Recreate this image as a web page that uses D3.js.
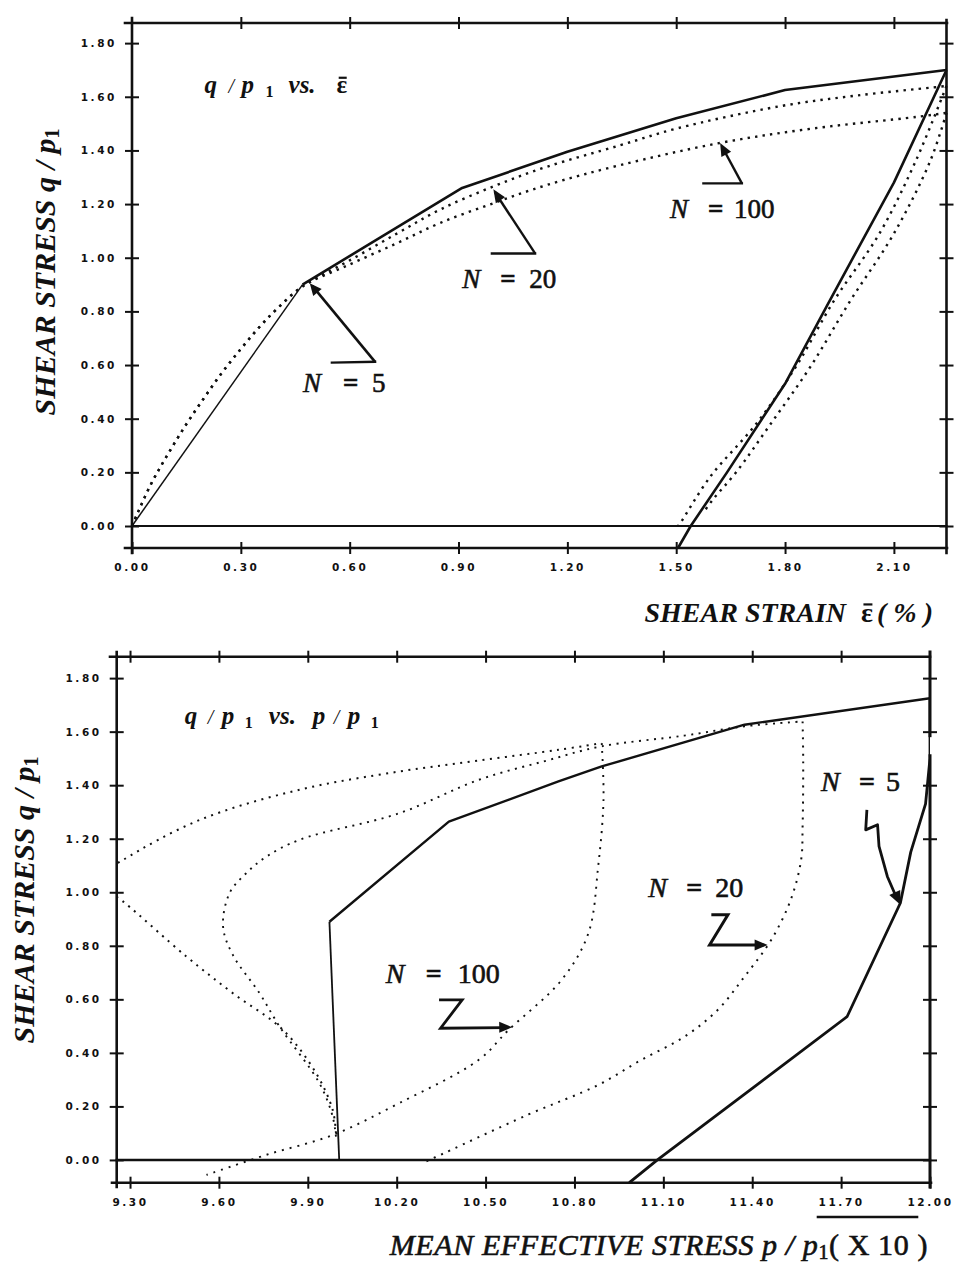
<!DOCTYPE html>
<html>
<head>
<meta charset="utf-8">
<script src="https://cdn.jsdelivr.net/npm/d3@7"></script>
<style>
  body { margin: 0; background: #fff; }
  svg text { font-family: "Liberation Serif", "Times New Roman", serif; fill: #111; }
  svg .tick text { font-family: "DejaVu Sans", sans-serif; font-weight: bold; font-size: 10.5px; }
</style>
</head>
<body>
<svg id="chart" width="958" height="1270"></svg>
<script>
// ---------- tick values and labels ----------
const strainTicks = [0.0, 0.3, 0.6, 0.9, 1.2, 1.5, 1.8, 2.1];
const strainTickLabels = ["0.00", "0.30", "0.60", "0.90", "1.20", "1.50", "1.80", "2.10"];
const stressTicks = [0.0, 0.2, 0.4, 0.6, 0.8, 1.0, 1.2, 1.4, 1.6, 1.8];
const stressTickLabels = ["0.00", "0.20", "0.40", "0.60", "0.80", "1.00", "1.20", "1.40", "1.60", "1.80"];
const meanTicks = [9.3, 9.6, 9.9, 10.2, 10.5, 10.8, 11.1, 11.4, 11.7, 12.0];
const meanTickLabels = ["9.30", "9.60", "9.90", "10.20", "10.50", "10.80", "11.10", "11.40", "11.70", "12.00"];

// ---------- q/p1 vs shear strain (%) ----------
const strainN5Load = [[0, 0], [0.47, 0.90], [0.91, 1.26], [1.20, 1.395], [1.50, 1.52], [1.80, 1.625], [2.245, 1.70]];
const strainN5Unload = [[2.245, 1.70], [2.10, 1.28], [1.915, 0.82], [1.80, 0.53], [1.64, 0.20], [1.54, 0.0], [1.505, -0.082]];
const strainDottedStart = [[0, 0], [0.05, 0.15], [0.10, 0.27], [0.15, 0.38], [0.20, 0.48], [0.25, 0.575],
  [0.30, 0.66], [0.35, 0.74], [0.40, 0.81], [0.47, 0.893]];
const strainN20Load = [[0.60, 0.99], [0.73, 1.09], [0.85, 1.18], [1.0, 1.268], [1.143, 1.339], [1.345, 1.419],
  [1.502, 1.482], [1.787, 1.565], [2.0, 1.605], [2.209, 1.635], [2.245, 1.64]];
const strainN100Load = [[0.60, 0.975], [0.73, 1.054], [0.85, 1.13], [1.0, 1.205], [1.143, 1.271], [1.345, 1.345],
  [1.621, 1.428], [1.878, 1.482], [2.163, 1.525], [2.245, 1.54]];
const strainN20Unload = [[2.245, 1.64], [2.16, 1.36], [2.06, 1.09], [1.935, 0.84], [1.83, 0.594], [1.72, 0.38],
  [1.594, 0.184], [1.511, 0.01], [1.505, 0.0]];
const strainN100Unload = [[2.245, 1.54], [2.20, 1.36], [2.10, 1.09], [1.98, 0.84], [1.87, 0.594], [1.76, 0.38],
  [1.665, 0.20], [1.60, 0.097], [1.575, 0.05]];

// ---------- q/p1 vs p/p1 (x 10) ----------
const meanN5Load = [[10.006, 0.0], [9.973, 0.89], [10.376, 1.264], [10.746, 1.414], [10.892, 1.47], [11.374, 1.626], [12.0, 1.725]];
const meanN5Unload = [[12.0, 1.725], [12.0, 1.50], [11.985, 1.33], [11.935, 1.15], [11.90, 0.96], [11.72, 0.535], [11.08, 0.0], [10.985, -0.085]];
const meanN20Load = [[9.995, 0.087], [9.984, 0.162], [9.939, 0.287], [9.805, 0.498], [9.737, 0.623], [9.647, 0.766],
  [9.614, 0.872], [9.636, 0.997], [9.692, 1.071], [9.76, 1.133], [9.872, 1.196], [10.208, 1.295], [10.477, 1.42],
  [10.70, 1.49], [10.89, 1.545], [11.17, 1.585], [11.374, 1.62], [11.57, 1.638]];
const meanN20Unload = [[11.57, 1.638], [11.572, 1.495], [11.57, 1.245], [11.565, 1.121], [11.53, 0.972], [11.464, 0.822],
  [11.374, 0.685], [11.284, 0.561], [11.172, 0.461], [11.026, 0.374], [10.88, 0.28], [10.645, 0.17], [10.33, 0.01], [10.30, -0.005]];
const meanN100Load = [[9.995, 0.10], [9.984, 0.187], [9.928, 0.324], [9.816, 0.486], [9.647, 0.623], [9.49, 0.76],
  [9.277, 0.965], [9.18, 1.045], [9.277, 1.121], [9.535, 1.27], [9.872, 1.383], [10.208, 1.451], [10.477, 1.492],
  [10.746, 1.532], [10.892, 1.557]];
const meanN100Unload = [[10.892, 1.557], [10.898, 1.345], [10.88, 1.096], [10.847, 0.847], [10.757, 0.673], [10.578, 0.486],
  [10.477, 0.374], [10.208, 0.212], [9.984, 0.093], [9.76, 0.019], [9.558, -0.056]];

const svg = d3.select("#chart");
const INK = "#111";

// ---------- helpers ----------
function seg(g, x1, y1, x2, y2, w) {
  g.append("line").attr("x1", x1).attr("y1", y1).attr("x2", x2).attr("y2", y2)
    .attr("stroke", INK).attr("stroke-width", w).attr("stroke-linecap", "square");
}
function arrowHead(g, fx, fy, tx, ty, len, half) {
  const a = Math.atan2(ty - fy, tx - fx);
  const bx = tx - len * Math.cos(a), by = ty - len * Math.sin(a);
  const px = -Math.sin(a) * half, py = Math.cos(a) * half;
  g.append("path").attr("d", `M${tx},${ty}L${bx + px},${by + py}L${bx - px},${by - py}Z`).attr("fill", INK);
}
function styleTicks(axisG, labels) {
  axisG.select(".domain").remove();
  axisG.selectAll(".tick line").attr("stroke", INK).attr("stroke-width", 2);
  axisG.selectAll(".tick text").style("letter-spacing", labels ? "2.6px" : null).attr("fill", INK);
}
function nLabel(g, x, y, value, size, eqOff, valOff) {
  const s = (t) => t.attr("stroke", INK).attr("stroke-width", 0.6);
  s(g.append("text").attr("x", x).attr("y", y).attr("font-size", size).attr("font-style", "italic").text("N"));
  s(g.append("text").attr("x", x + eqOff).attr("y", y).attr("font-size", size).attr("font-weight", "bold").text("="));
  s(g.append("text").attr("x", x + valOff).attr("y", y).attr("font-size", size).text(value));
}
// short bar over the first character of a tspan (the strain symbol)
function overbar(tspanSel, w) {
  let r;
  try { r = tspanSel.node().getExtentOfChar(0); } catch (e) { return; }
  svg.append("line").attr("x1", r.x + r.width * 0.2).attr("x2", r.x + r.width * 0.95)
    .attr("y1", r.y + r.height * 0.24).attr("y2", r.y + r.height * 0.24)
    .attr("stroke", INK).attr("stroke-width", w);
}

// =====================================================================
// Upper panel: shear stress vs shear strain
// =====================================================================
{
  const x = d3.scaleLinear().domain([0, 2.245]).range([132, 946.5]);
  const y = d3.scaleLinear().domain([-0.082, 1.875]).range([548, 23]);
  const g = svg.append("g");

  // frame
  seg(g, 125, y(1.875), 947, y(1.875), 2.6);
  seg(g, 125, y(-0.082), 947, y(-0.082), 2.6);
  seg(g, x(0), 18, x(0), 553, 2.6);
  seg(g, x(2.245), 20, x(2.245), 553, 2.6);
  seg(g, x(0), y(0), x(2.245), y(0), 2.2);

  // axes
  const left = g.append("g").attr("transform", `translate(${x(0)},0)`)
    .call(d3.axisLeft(y).tickValues(stressTicks).tickSize(7).tickPadding(8)
      .tickFormat((d, i) => stressTickLabels[i]));
  styleTicks(left, true);
  const leftIn = g.append("g").attr("transform", `translate(${x(0)},0)`)
    .call(d3.axisRight(y).tickValues(stressTicks).tickSize(7).tickFormat(""));
  styleTicks(leftIn, false);
  [d3.axisLeft, d3.axisRight].forEach(ax => {
    const r = g.append("g").attr("transform", `translate(${x(2.245)},0)`)
      .call(ax(y).tickValues(stressTicks).tickSize(7).tickFormat(""));
    styleTicks(r, false);
  });
  const bottom = g.append("g").attr("transform", `translate(0,${y(-0.082)})`)
    .call(d3.axisBottom(x).tickValues(strainTicks).tickSize(6).tickPadding(10)
      .tickFormat((d, i) => strainTickLabels[i]));
  styleTicks(bottom, true);
  const bottomUp = g.append("g").attr("transform", `translate(0,${y(-0.082)})`)
    .call(d3.axisTop(x).tickValues(strainTicks).tickSize(6).tickFormat(""));
  styleTicks(bottomUp, false);
  [d3.axisTop, d3.axisBottom].forEach(ax => {
    const t = g.append("g").attr("transform", `translate(0,${y(1.875)})`)
      .call(ax(x).tickValues(strainTicks.slice(1)).tickSize(6).tickFormat(""));
    styleTicks(t, false);
  });

  // curves
  const solid = d3.line().x(d => x(d[0])).y(d => y(d[1]));
  const smooth = d3.line().x(d => x(d[0])).y(d => y(d[1])).curve(d3.curveCatmullRom.alpha(0.5));
  const dotted = (data) => g.append("path").attr("d", smooth(data)).attr("fill", "none")
    .attr("stroke", INK).attr("stroke-width", 2.4).attr("stroke-dasharray", "2.4,5.2");
  dotted(strainDottedStart.concat(strainN20Load));
  dotted(strainDottedStart.concat(strainN100Load));
  dotted(strainN20Unload);
  dotted(strainN100Unload);
  g.append("path").attr("d", solid(strainN5Load.slice(0, 2))).attr("fill", "none")
    .attr("stroke", INK).attr("stroke-width", 1.5);
  g.append("path").attr("d", solid(strainN5Load.slice(1))).attr("fill", "none")
    .attr("stroke", INK).attr("stroke-width", 2.6).attr("stroke-linejoin", "round");
  g.append("path").attr("d", solid(strainN5Unload)).attr("fill", "none")
    .attr("stroke", INK).attr("stroke-width", 2.6).attr("stroke-linejoin", "round");

  // panel title
  const t = g.append("text").attr("y", y(1.613)).attr("font-size", 25)
    .attr("font-style", "italic").attr("font-weight", "bold");
  const tx = x(0.2);
  t.append("tspan").attr("x", tx).text("q");
  t.append("tspan").attr("x", tx + 24).attr("font-size", 20).attr("font-weight", "normal").text("/");
  t.append("tspan").attr("x", tx + 37).text("p");
  t.append("tspan").attr("x", tx + 61).attr("dy", 4).attr("font-size", 16).attr("font-style", "normal").text("1");
  t.append("tspan").attr("x", tx + 84).attr("dy", -4).text("vs.");
  const eps1 = t.append("tspan").attr("x", tx + 132).attr("font-style", "normal").text("\u03b5");
  overbar(eps1, 2.2);

  // annotations
  const ann = g.append("g").attr("fill", INK);
  nLabel(ann, x(0.471), y(0.50), "5", 27, 40, 69);
  seg(ann, x(0.551), y(0.609), x(0.67), y(0.612), 2.4);
  ann.append("line").attr("x1", x(0.67)).attr("y1", y(0.612)).attr("x2", x(0.497)).attr("y2", y(0.895))
    .attr("stroke", INK).attr("stroke-width", 2.6);
  arrowHead(ann, x(0.67), y(0.612), x(0.49), y(0.905), 12, 5.5);

  nLabel(ann, x(0.91), y(0.887), "20", 27, 38, 67);
  seg(ann, x(0.992), y(1.016), x(1.111), y(1.016), 2.4);
  ann.append("line").attr("x1", x(1.111)).attr("y1", y(1.016)).attr("x2", x(1.0)).attr("y2", y(1.245))
    .attr("stroke", INK).attr("stroke-width", 2.4);
  arrowHead(ann, x(1.111), y(1.016), x(0.996), y(1.255), 13, 5.5);

  nLabel(ann, x(1.483), y(1.148), "100", 27, 38, 64);
  seg(ann, x(1.575), y(1.277), x(1.681), y(1.277), 2.4);
  ann.append("line").attr("x1", x(1.681)).attr("y1", y(1.277)).attr("x2", x(1.628)).attr("y2", y(1.41))
    .attr("stroke", INK).attr("stroke-width", 2.4);
  arrowHead(ann, x(1.681), y(1.277), x(1.621), y(1.428), 13, 5.5);

  // axis titles
  const yt = g.append("text").attr("transform", "translate(55,272) rotate(-90)")
    .attr("text-anchor", "middle").attr("font-size", 30).attr("font-style", "italic").attr("font-weight", "bold");
  yt.append("tspan").text("SHEAR STRESS  q / p");
  yt.append("tspan").attr("dy", 4).attr("font-size", 20).attr("font-style", "normal").text("1");
  const xt = g.append("text").attr("x", 933).attr("y", 622).attr("text-anchor", "end").attr("font-size", 28)
    .attr("font-style", "italic").attr("font-weight", "bold");
  xt.append("tspan").text("SHEAR STRAIN ");
  const eps2 = xt.append("tspan").attr("dx", 8).attr("font-style", "normal").text("\u03b5");
  xt.append("tspan").attr("dx", 4).text("( % )");
  overbar(eps2, 2.2);
}

// =====================================================================
// Lower panel: shear stress vs mean effective stress
// =====================================================================
{
  const x = d3.scaleLinear().domain([9.255, 12.0]).range([116.7, 930]);
  const y = d3.scaleLinear().domain([-0.085, 1.88]).range([1182.7, 656.7]);
  const g = svg.append("g");

  svg.append("defs").append("clipPath").attr("id", "lowerClip")
    .append("rect").attr("x", x(9.255)).attr("y", y(1.88)).attr("width", x(12) - x(9.255)).attr("height", y(-0.085) - y(1.88));

  // frame
  seg(g, 110, y(1.88), 930, y(1.88), 2.6);
  seg(g, 112, y(-0.085), 931, y(-0.085), 2.6);
  seg(g, x(9.255), 652, x(9.255), 1187, 2.6);
  seg(g, x(12), 652, x(12), y(1.585), 3);
  seg(g, x(12), y(1.51), x(12), 1187, 3);
  seg(g, x(9.255), y(0), x(12), y(0), 2.4);

  const left = g.append("g").attr("transform", `translate(${x(9.255)},0)`)
    .call(d3.axisLeft(y).tickValues(stressTicks).tickSize(7).tickPadding(8)
      .tickFormat((d, i) => stressTickLabels[i]));
  styleTicks(left, true);
  const leftIn = g.append("g").attr("transform", `translate(${x(9.255)},0)`)
    .call(d3.axisRight(y).tickValues(stressTicks).tickSize(7).tickFormat(""));
  styleTicks(leftIn, false);
  [d3.axisLeft, d3.axisRight].forEach(ax => {
    const r = g.append("g").attr("transform", `translate(${x(12)},0)`)
      .call(ax(y).tickValues(stressTicks).tickSize(7).tickFormat(""));
    styleTicks(r, false);
  });
  const bottom = g.append("g").attr("transform", `translate(0,${y(-0.085)})`)
    .call(d3.axisBottom(x).tickValues(meanTicks).tickSize(6).tickPadding(10)
      .tickFormat((d, i) => meanTickLabels[i]));
  styleTicks(bottom, true);
  const bottomUp = g.append("g").attr("transform", `translate(0,${y(-0.085)})`)
    .call(d3.axisTop(x).tickValues(meanTicks).tickSize(6).tickFormat(""));
  styleTicks(bottomUp, false);
  [d3.axisTop, d3.axisBottom].forEach(ax => {
    const t = g.append("g").attr("transform", `translate(0,${y(1.88)})`)
      .call(ax(x).tickValues(meanTicks.slice(0, -1)).tickSize(6).tickFormat(""));
    styleTicks(t, false);
  });

  const solid = d3.line().x(d => x(d[0])).y(d => y(d[1]));
  const smooth = d3.line().x(d => x(d[0])).y(d => y(d[1])).curve(d3.curveCatmullRom.alpha(0.5));
  const plot = g.append("g").attr("clip-path", "url(#lowerClip)");
  const dotted = (data, w, dash) => plot.append("path").attr("d", smooth(data)).attr("fill", "none")
    .attr("stroke", INK).attr("stroke-width", w).attr("stroke-dasharray", dash);
  dotted(meanN100Load, 2, "2,5.5");
  dotted(meanN100Unload, 1.9, "2,6");
  dotted(meanN20Load, 1.9, "2,5.5");
  dotted(meanN20Unload, 2, "2,6");

  plot.append("path").attr("d", solid(meanN5Load.slice(0, 2))).attr("fill", "none")
    .attr("stroke", INK).attr("stroke-width", 1.8);
  plot.append("path").attr("d", solid(meanN5Load.slice(1))).attr("fill", "none")
    .attr("stroke", INK).attr("stroke-width", 2.4).attr("stroke-linejoin", "round");
  plot.append("path").attr("d", solid(meanN5Unload)).attr("fill", "none")
    .attr("stroke", INK).attr("stroke-width", 2.8).attr("stroke-linejoin", "round");

  // panel title
  const t = g.append("text").attr("y", y(1.63)).attr("font-size", 25)
    .attr("font-style", "italic").attr("font-weight", "bold");
  const tx = x(9.485);
  t.append("tspan").attr("x", tx).text("q");
  t.append("tspan").attr("x", tx + 23).attr("font-size", 20).attr("font-weight", "normal").text("/");
  t.append("tspan").attr("x", tx + 37).text("p");
  t.append("tspan").attr("x", tx + 60).attr("dy", 4).attr("font-size", 16).attr("font-style", "normal").text("1");
  t.append("tspan").attr("x", tx + 84).attr("dy", -4).text("vs.");
  t.append("tspan").attr("x", tx + 128).text("p");
  t.append("tspan").attr("x", tx + 149).attr("font-size", 20).attr("font-weight", "normal").text("/");
  t.append("tspan").attr("x", tx + 163).text("p");
  t.append("tspan").attr("x", tx + 186).attr("dy", 4).attr("font-size", 16).attr("font-style", "normal").text("1");

  // annotations
  const ann = g.append("g");
  nLabel(ann, x(10.163), y(0.661), "100", 28, 40, 72);
  const z100 = [[10.343, 0.598], [10.421, 0.598], [10.348, 0.492], [10.565, 0.494]];
  ann.append("path").attr("d", solid(z100)).attr("fill", "none").attr("stroke", INK).attr("stroke-width", 2.8);
  arrowHead(ann, x(10.348), y(0.494), x(10.59), y(0.496), 13, 5.5);

  nLabel(ann, x(11.049), y(0.983), "20", 28, 38, 67);
  const z20 = [[11.262, 0.916], [11.318, 0.916], [11.256, 0.803], [11.43, 0.803]];
  ann.append("path").attr("d", solid(z20)).attr("fill", "none").attr("stroke", INK).attr("stroke-width", 3);
  arrowHead(ann, x(11.256), y(0.803), x(11.452), y(0.803), 13, 5.5);

  nLabel(ann, x(11.632), y(1.379), "5", 28, 38, 65);
  const squiggle = [[11.787, 1.308], [11.783, 1.233], [11.823, 1.252], [11.828, 1.171], [11.856, 1.059], [11.885, 0.985]];
  ann.append("path").attr("d", solid(squiggle)).attr("fill", "none").attr("stroke", INK)
    .attr("stroke-width", 2.8).attr("stroke-linejoin", "round");
  arrowHead(ann, x(11.856), y(1.059), x(11.901), y(0.952), 14, 6);

  // axis titles
  const yt = g.append("text").attr("transform", "translate(34,900) rotate(-90)")
    .attr("text-anchor", "middle").attr("font-size", 30).attr("font-style", "italic").attr("font-weight", "bold");
  yt.append("tspan").text("SHEAR STRESS  q / p");
  yt.append("tspan").attr("dy", 4).attr("font-size", 20).attr("font-style", "normal").text("1");

  const xt = g.append("text").attr("x", 928).attr("y", 1255).attr("text-anchor", "end").attr("font-size", 30)
    .attr("font-style", "italic").attr("stroke", INK).attr("stroke-width", 0.6).style("letter-spacing", "0.6px");
  xt.append("tspan").text("MEAN EFFECTIVE STRESS   p / p");
  xt.append("tspan").attr("dy", 4).attr("font-size", 20).attr("font-style", "normal").text("1");
  xt.append("tspan").attr("dy", -4).attr("font-style", "normal").text("( X 10 )");
  seg(g, 818, 1217, 917, 1217, 2.6);
}
</script>
</body>
</html>
